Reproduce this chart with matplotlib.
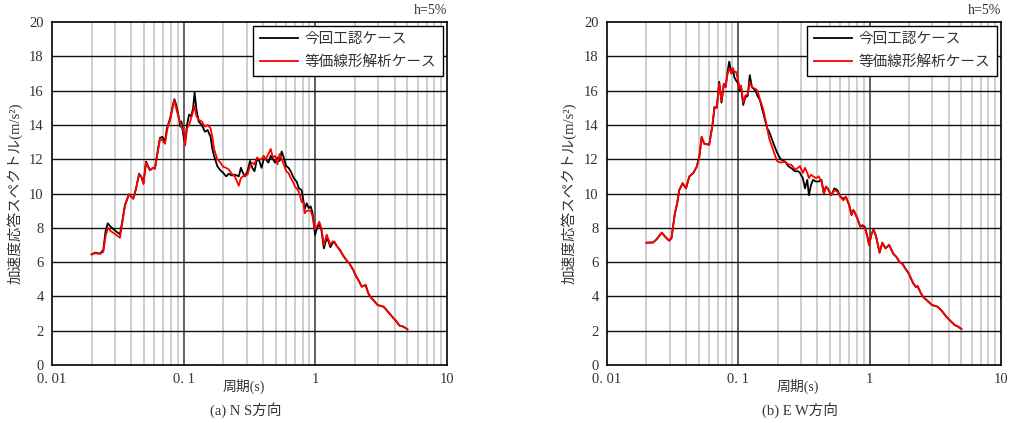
import matplotlib
matplotlib.use("Agg")
import matplotlib.pyplot as plt
from matplotlib.ticker import FixedLocator, NullFormatter

plt.rcParams["font.family"] = ["Liberation Serif", "Noto Sans CJK JP"]

# NS direction: period (s), black case, red case (m/s2)
ns_period = [0.020, 0.0212, 0.0232, 0.0245, 0.0255, 0.0265, 0.028, 0.030, 0.0328, 0.0342,
             0.0358, 0.0384, 0.0414, 0.0435, 0.0458, 0.0475, 0.0495, 0.0517, 0.0554, 0.0585,
             0.0605, 0.0635, 0.0661, 0.069, 0.0721, 0.0745, 0.0764, 0.079, 0.0825, 0.0849,
             0.0875, 0.091, 0.0943, 0.096, 0.1009, 0.1025, 0.106, 0.110, 0.114, 0.118,
             0.121, 0.125, 0.130, 0.137, 0.145, 0.152, 0.160, 0.165, 0.170, 0.180,
             0.190, 0.200, 0.210, 0.220, 0.232, 0.245, 0.262, 0.272, 0.282, 0.292,
             0.305, 0.319, 0.332, 0.345, 0.360, 0.375, 0.390, 0.405, 0.42, 0.44,
             0.458, 0.475, 0.495, 0.515, 0.535, 0.555, 0.575, 0.60, 0.625, 0.65,
             0.675, 0.70, 0.721, 0.75, 0.787, 0.81, 0.83, 0.86, 0.89, 0.92,
             0.95, 0.995, 1.03, 1.07, 1.11, 1.16, 1.22, 1.26, 1.30, 1.35,
             1.39, 1.45, 1.54, 1.62, 1.72, 1.82, 1.94, 2.03, 2.12, 2.25,
             2.41, 2.52, 2.61, 2.75, 2.97, 3.3, 3.65, 3.9, 4.14, 4.35,
             4.54, 4.75, 5.0]
ns_kaisai = [6.45, 6.55, 6.5, 6.7, 7.8, 8.26, 8.05, 7.85, 7.62, 8.4,
             9.33, 9.95, 9.7, 10.3, 11.15, 11.0, 10.6, 11.86, 11.37, 11.5,
             11.45, 12.5, 13.25, 13.3, 13.0, 13.8, 14.05, 14.4, 15.1, 15.5,
             15.2, 14.6, 13.9, 14.2, 13.1, 13.0, 14.0, 14.6, 14.5, 15.0,
             15.9, 14.9, 14.2, 14.0, 13.6, 13.7, 13.3, 12.6, 12.2, 11.6,
             11.35, 11.2, 11.0, 11.15, 11.05, 11.1, 11.0, 11.5, 11.2, 11.0,
             11.3, 11.9, 11.5, 11.3, 12.0, 11.9, 11.5, 12.0, 12.0, 11.8,
             12.2, 12.0, 11.8, 12.1, 11.9, 12.45, 12.1, 11.6, 11.5, 11.3,
             11.0, 10.8, 10.7, 10.3, 10.2, 9.6, 9.1, 9.43, 9.15, 9.25,
             8.9, 7.58, 8.0, 8.2, 7.9, 6.8, 7.4, 7.2, 6.87, 7.1,
             7.19, 6.95, 6.7, 6.4, 6.12, 5.9, 5.54, 5.2, 4.96, 4.57,
             4.66, 4.2, 3.98, 3.8, 3.5, 3.4, 3.01, 2.75, 2.53, 2.3,
             2.27, 2.2, 2.08]
ns_touka = [6.45, 6.52, 6.48, 6.6, 7.5, 8.0, 7.8, 7.65, 7.42, 8.3,
            9.3, 9.95, 9.7, 10.3, 11.1, 11.0, 10.55, 11.8, 11.35, 11.5,
            11.45, 12.4, 13.2, 13.1, 12.9, 13.6, 14.0, 14.3, 15.0, 15.45,
            15.0, 14.5, 14.1, 13.9, 13.5, 12.8, 13.8, 14.0, 14.4, 14.8,
            15.1, 14.5, 14.3, 14.2, 13.9, 14.0, 13.8, 13.3, 12.6, 12.0,
            11.8, 11.55, 11.5, 11.4, 11.15, 10.98, 10.45, 10.9, 11.0, 11.05,
            11.1, 11.6, 11.8, 11.7, 12.1, 12.0, 12.0, 12.2, 12.0, 12.3,
            12.6, 12.1, 12.2, 11.7, 12.3, 12.0, 11.7, 11.3, 11.2, 10.9,
            10.7, 10.4, 10.3, 10.1, 9.5, 9.5, 8.85, 9.0, 9.0, 9.0,
            8.7, 7.9, 8.1, 8.36, 8.0, 7.0, 7.6, 7.3, 7.0, 7.2,
            7.2, 6.95, 6.7, 6.4, 6.12, 5.9, 5.54, 5.2, 4.96, 4.57,
            4.66, 4.2, 3.98, 3.8, 3.5, 3.4, 3.01, 2.75, 2.53, 2.3,
            2.27, 2.2, 2.08]

# EW direction
ew_period = [0.020, 0.0225, 0.024, 0.0261, 0.028, 0.0298, 0.031, 0.0329, 0.0342, 0.0355,
             0.0377, 0.040, 0.0424, 0.0455, 0.0482, 0.0505, 0.0526, 0.055, 0.0601, 0.0636,
             0.066, 0.0686, 0.0716, 0.0745, 0.0776, 0.080, 0.0825, 0.0853, 0.0885, 0.091,
             0.093, 0.096, 0.1004, 0.102, 0.105, 0.109, 0.113, 0.118, 0.1223, 0.127,
             0.135, 0.14, 0.146, 0.155, 0.166, 0.172, 0.185, 0.197, 0.21, 0.227,
             0.24, 0.254, 0.27, 0.285, 0.295, 0.31, 0.322, 0.335, 0.345, 0.358,
             0.371, 0.39, 0.41, 0.43, 0.448, 0.465, 0.48, 0.51, 0.54, 0.568,
             0.60, 0.63, 0.66, 0.70, 0.728, 0.75, 0.77, 0.81, 0.85, 0.88,
             0.92, 0.96, 0.99, 1.03, 1.07, 1.12, 1.19, 1.25, 1.32, 1.41,
             1.51, 1.60, 1.69, 1.78, 1.88, 1.98, 2.15, 2.25, 2.32, 2.45,
             2.55, 2.75, 2.98, 3.3, 3.55, 3.84, 4.15, 4.45, 4.7, 5.0]
ew_kaisai = [7.13, 7.15, 7.35, 7.72, 7.45, 7.25, 7.4, 8.84, 9.4, 10.2,
             10.6, 10.3, 11.0, 11.2, 11.56, 12.15, 13.3, 12.9, 12.85, 14.0,
             15.06, 15.0, 16.52, 15.3, 16.4, 16.2, 17.0, 17.69, 17.0, 17.3,
             16.8, 16.6, 16.4, 16.0, 16.2, 15.16, 15.6, 15.7, 16.9, 16.2,
             16.0, 15.7, 15.45, 14.68, 13.8, 13.6, 12.93, 12.4, 12.0, 11.86,
             11.6, 11.47, 11.3, 11.3, 11.2, 10.9, 10.3, 10.8, 9.9, 10.5,
             10.8, 10.7, 10.7, 10.8, 10.0, 10.4, 10.3, 9.9, 10.3, 10.2,
             9.8, 9.7, 9.8, 9.3, 8.75, 9.04, 8.9, 8.5, 8.06, 8.15,
             8.06, 7.5, 7.0, 7.6, 7.9, 7.5, 6.55, 7.13, 6.8, 7.0,
             6.5, 6.3, 6.0, 5.9, 5.6, 5.35, 4.76, 4.55, 4.6, 4.2,
             3.98, 3.75, 3.5, 3.4, 3.15, 2.82, 2.55, 2.33, 2.25, 2.1]
ew_touka = [7.13, 7.15, 7.35, 7.72, 7.45, 7.25, 7.4, 8.84, 9.4, 10.2,
            10.6, 10.3, 11.0, 11.2, 11.56, 12.1, 13.3, 12.9, 12.85, 14.0,
            15.06, 15.0, 16.4, 15.4, 16.4, 16.2, 16.9, 17.3, 17.0, 17.3,
            17.1, 17.1, 16.5, 16.1, 16.3, 15.3, 15.7, 15.8, 16.5, 16.2,
            16.1, 16.0, 15.5, 14.9, 13.8, 13.2, 12.5, 11.9, 11.8, 11.86,
            11.7, 11.67, 11.4, 11.5, 11.6, 11.2, 11.5, 11.2, 10.9, 11.1,
            11.0, 10.9, 11.0, 10.7, 10.0, 10.4, 10.3, 9.9, 10.2, 10.1,
            9.8, 9.6, 9.8, 9.3, 8.75, 9.0, 8.9, 8.5, 8.06, 8.1,
            8.0, 7.5, 7.0, 7.6, 7.9, 7.5, 6.55, 7.13, 6.8, 7.0,
            6.5, 6.3, 6.0, 5.9, 5.6, 5.35, 4.76, 4.55, 4.6, 4.2,
            3.98, 3.75, 3.5, 3.4, 3.15, 2.82, 2.55, 2.33, 2.25, 2.1]

legend_labels = ["今回工認ケース", "等価線形解析ケース"]
subtitles = ["(a) N S方向", "(b) E W方向"]
x_ticks = [0.01, 0.1, 1, 10]
x_tick_labels = ["0. 01", "0. 1", "1", "10"]
y_ticks = list(range(0, 21, 2))

TEXT = "#333333"


def draw_panel(ax, period, black, red, subtitle):
    ax.set_xscale("log")
    ax.set_xlim(0.01, 10)
    ax.set_ylim(0, 20)

    # grid drawn by hand: light minor lines, darker decade lines, black horizontals
    minor = [m * 10.0 ** e for e in (-2, -1, 0) for m in range(2, 10)]
    for x in minor:
        ax.axvline(x, color="#cfcfcf", linewidth=1.4, zorder=1)
    for x in (0.1, 1):
        ax.axvline(x, color="#555555", linewidth=1.3, zorder=1)
    for y in y_ticks[1:-1]:
        ax.axhline(y, color="#111111", linewidth=1.0, zorder=1)

    ax.plot(period, black, color="black", linewidth=1.3, label=legend_labels[0], zorder=3)
    ax.plot(period, red, color="#ff0000", linewidth=1.3, label=legend_labels[1], zorder=4)

    ax.xaxis.set_major_locator(FixedLocator(x_ticks))
    ax.xaxis.set_minor_locator(FixedLocator([]))
    ax.xaxis.set_minor_formatter(NullFormatter())
    ax.set_xticks(x_ticks)
    ax.set_xticklabels(x_tick_labels)
    ax.set_yticks(y_ticks)
    ax.tick_params(axis="both", length=0, labelsize=10.5, colors=TEXT, pad=6)
    for side in ax.spines.values():
        side.set_color("black")
        side.set_linewidth(1.2)

    ax.text(0.485, -0.062, "周期(s)", transform=ax.transAxes, ha="center", va="center",
            fontsize=10, color=TEXT)
    ax.set_ylabel("加速度応答スペクトル(m/s²)", fontsize=10.5, color=TEXT, labelpad=5)
    ax.text(1.0, 1.015, "h=5%", transform=ax.transAxes, ha="right", va="bottom",
            fontsize=10, color=TEXT)
    ax.text(0.49, -0.132, subtitle, transform=ax.transAxes, ha="center", va="center",
            fontsize=10.5, color=TEXT)

    leg = ax.legend(loc="upper right", bbox_to_anchor=(0.99, 0.988), fancybox=False,
                    framealpha=1, edgecolor="black", fontsize=10.5, handlelength=2.6,
                    handletextpad=0.5, borderpad=0.45, labelspacing=0.65,
                    borderaxespad=0.0)
    leg.get_frame().set_linewidth(1.0)
    for t in leg.get_texts():
        t.set_color(TEXT)


fig = plt.figure(figsize=(10.16, 4.23), dpi=100)
ax1 = fig.add_axes([0.0512, 0.137, 0.3888, 0.811])
ax2 = fig.add_axes([0.5974, 0.137, 0.3878, 0.811])

draw_panel(ax1, ns_period, ns_kaisai, ns_touka, subtitles[0])
draw_panel(ax2, ew_period, ew_kaisai, ew_touka, subtitles[1])

fig.savefig("out.png", dpi=100)
